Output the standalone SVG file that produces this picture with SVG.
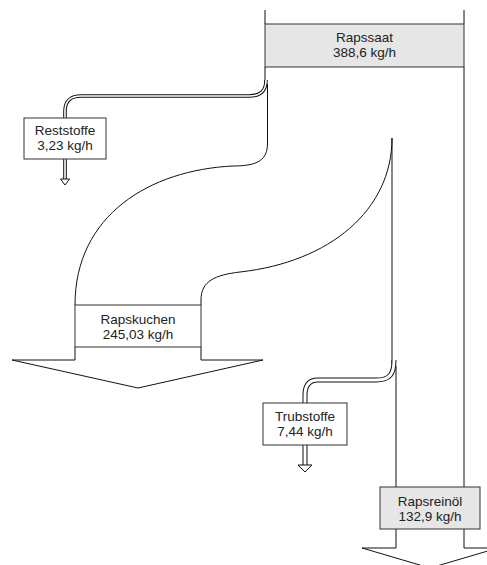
<svg xmlns="http://www.w3.org/2000/svg" width="487" height="565" viewBox="0 0 487 565">
<style>
.edge{fill:none;stroke:#111;stroke-width:1}
.dbl-o{fill:none;stroke:#111}
.dbl-i{fill:none;stroke:#fff}
.arrow{fill:#fff;stroke:#111;stroke-width:1;stroke-linejoin:miter}
.box{stroke:#333;stroke-width:1}
.grey{fill:#e6e6e6}
.white{fill:#fff}
text{font-family:"Liberation Sans",Arial,sans-serif;font-size:13.5px;fill:#222;text-anchor:middle}
</style>
<rect width="487" height="565" fill="#fff"/>
<g id="connectors">
  <path class="edge" d="M265,10 V24"/>
  <path class="edge" d="M464,10 V24"/>
  <path class="edge" d="M265,67 V82"/>
  <path class="edge" d="M464,67 V487"/>
  <path class="dbl-o" stroke-width="3.6" d="M266,80 C266,91 261,96 249,96 H81 C71,96 65,101 65,111 V118"/>
  <path class="dbl-i" stroke-width="1.6" d="M266,80 C266,91 261,96 249,96 H81 C71,96 65,101 65,111 V118"/>
  <path class="edge" d="M267.5,84 V143 C267.5,160 258,166 233,166 C150,170 75,215 75,305"/>
  <path class="edge" d="M392,138 C392,210 330,262 240,272 C215,275 201,281 201,300 V305"/>
  <path class="arrow" d="M75,347 V360 H12 L138,388 L263,360 H201 V347"/>
  <path class="edge" d="M392,138 V364"/>
  <path class="edge" d="M396,366 V487"/>
  <path class="dbl-o" stroke-width="5" d="M394,360 C394,374 390,380 376,380 H318 C309,380 305,385 305,395 V403"/>
  <path class="dbl-i" stroke-width="3" d="M394,360 C394,374 390,380 376,380 H318 C309,380 305,385 305,395 V403"/>
  <path class="dbl-o" stroke-width="3.6" d="M65,159 V179"/>
  <path class="dbl-i" stroke-width="1.6" d="M65,159 V180"/>
  <path class="arrow" d="M60.5,179 H69.5 L65,185 Z"/>
  <path class="dbl-o" stroke-width="5" d="M305,445 V465"/>
  <path class="dbl-i" stroke-width="3" d="M305,445 V466"/>
  <path class="arrow" d="M298,465 H312 L305,472 Z"/>
  <path class="arrow" d="M396,529 V548 H362 L430,568 L498,548 H464 V529"/>
</g>
<g id="node-rapssaat">
  <rect class="box grey" x="265" y="24" width="199" height="43"/>
  <text x="364.5" y="42">Rapssaat</text>
  <text x="364.5" y="57">388,6 kg/h</text>
</g>
<g id="node-reststoffe">
  <rect class="box white" x="24" y="118" width="82" height="41"/>
  <text x="65" y="135">Reststoffe</text>
  <text x="65" y="150">3,23 kg/h</text>
</g>
<g id="node-rapskuchen">
  <rect class="box white" x="75" y="305" width="126" height="42"/>
  <text x="138" y="324">Rapskuchen</text>
  <text x="138" y="339">245,03 kg/h</text>
</g>
<g id="node-trubstoffe">
  <rect class="box white" x="263" y="403" width="84" height="42"/>
  <text x="305" y="421">Trubstoffe</text>
  <text x="305" y="436">7,44 kg/h</text>
</g>
<g id="node-rapsreinoel">
  <rect class="box grey" x="380" y="487" width="100" height="42"/>
  <text x="430" y="506">Rapsreinöl</text>
  <text x="430" y="521">132,9 kg/h</text>
</g>
</svg>
